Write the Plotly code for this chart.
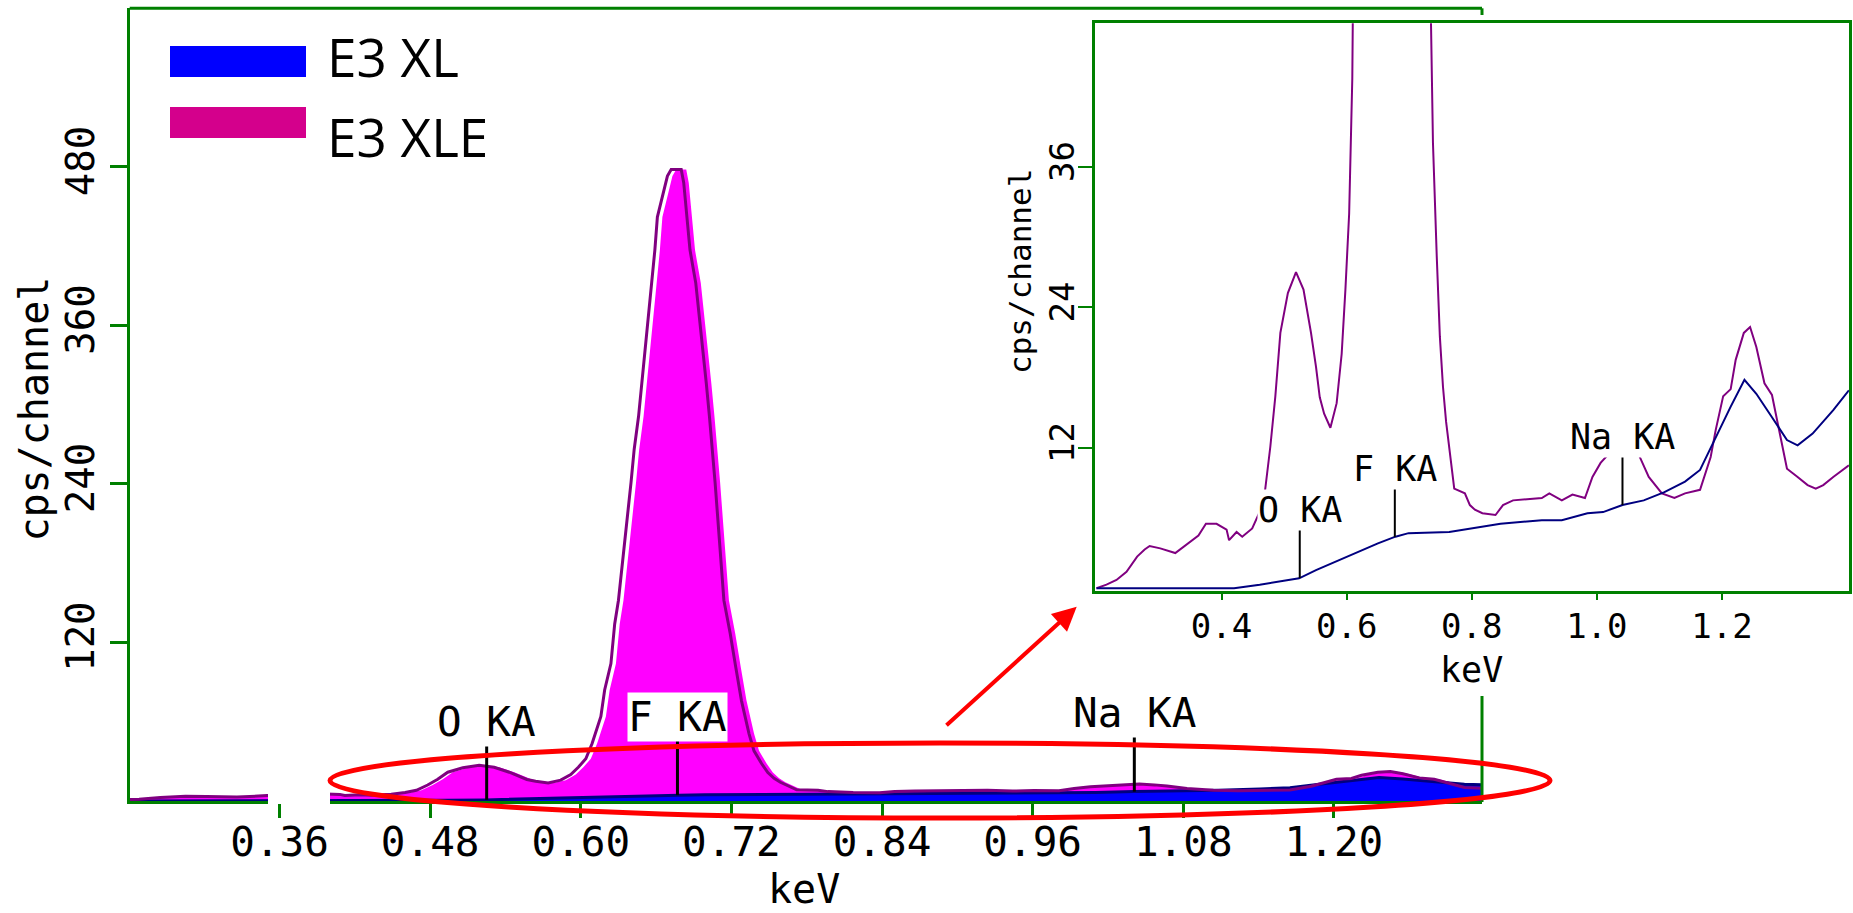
import numpy as np
import plotly.graph_objects as go

W, H = 1853, 913

# ---------------- data ----------------
xle_kev = [0.200, 0.216, 0.232, 0.248, 0.265, 0.277, 0.285, 0.302, 0.326, 0.343,
           0.363, 0.375, 0.392, 0.408, 0.412, 0.424, 0.433, 0.449, 0.460, 0.469,
           0.478, 0.486, 0.494, 0.506, 0.519, 0.531, 0.543, 0.551, 0.557, 0.564,
           0.574, 0.584, 0.592, 0.598, 0.604, 0.609, 0.616, 0.619, 0.624, 0.627,
           0.630, 0.640, 0.6425, 0.646, 0.6486, 0.6512, 0.654, 0.6565, 0.659, 0.661,
           0.666, 0.669, 0.672, 0.680, 0.682, 0.6844, 0.687, 0.6916, 0.6945, 0.697,
           0.700, 0.7025, 0.705, 0.707, 0.714, 0.719, 0.7235, 0.728, 0.734, 0.738,
           0.744, 0.749, 0.754, 0.759, 0.772, 0.789, 0.797, 0.805, 0.817, 0.838,
           0.850, 0.866, 0.912, 0.924, 0.944, 0.961, 0.981, 0.993, 1.006, 1.018,
           1.030, 1.045, 1.057, 1.067, 1.083, 1.104, 1.124, 1.141, 1.165, 1.182,
           1.190, 1.202, 1.214, 1.222, 1.235, 1.245, 1.255, 1.268, 1.280, 1.292,
           1.304, 1.321, 1.337, 1.350, 1.362, 1.378, 1.403]
xle_cps = [0.0, 0.3, 0.7, 1.4, 2.7, 3.3, 3.6, 3.4, 3.0, 3.7,
           4.5, 5.5, 5.5, 5.0, 4.1, 4.8, 4.4, 5.1, 6.4, 8.1,
           12.1, 16.4, 21.8, 25.2, 27.0, 25.5, 21.8, 18.9, 16.3, 14.9,
           13.7, 15.8, 20.0, 25.5, 32.0, 43.5, 64.0, 84.0, 104, 134,
           152, 241, 266, 291, 316, 341, 367, 392, 417, 442,
           460, 473, 478, 478, 468, 442, 417, 392, 367, 341,
           316, 291, 266, 241, 152, 127, 101, 76, 51, 38.0,
           28.4, 21.5, 17.2, 14.2, 8.5, 8.1, 7.1, 6.7, 6.4, 6.25,
           7.1, 7.5, 7.7, 8.1, 7.5, 8.0, 7.7, 9.5, 10.7, 11.4,
           12.3, 12.8, 12.2, 11.4, 9.5, 8.1, 7.7, 8.1, 8.4, 11.2,
           13.5, 16.4, 17.0, 19.5, 21.8, 22.3, 20.6, 17.5, 16.5, 13.5,
           10.2, 9.5, 8.8, 8.5, 8.8, 9.5, 10.5]

xl_kev = [0.200, 0.420, 0.461, 0.494, 0.524, 0.551, 0.584, 0.617, 0.650, 0.678,
          0.699, 0.764, 0.813, 0.846, 0.912, 0.944, 0.985, 1.010, 1.041, 1.075,
          1.108, 1.141, 1.165, 1.190, 1.214, 1.236, 1.255, 1.280, 1.304, 1.321,
          1.345, 1.378, 1.403]
xl_cps = [0.0, 0.0, 0.3, 0.55, 0.84, 1.55, 2.3, 3.1, 3.83, 4.4,
          4.7, 4.8, 5.25, 5.5, 5.8, 5.8, 6.4, 6.5, 7.1, 7.5,
          8.2, 9.1, 10.1, 12.9, 15.5, 17.8, 16.6, 14.6, 12.65, 12.2,
          13.2, 15.2, 16.9]

line_names = ["O KA", "F KA", "Na KA"]
line_kev = [0.525, 0.677, 1.041]

main_xticks = [0.36, 0.48, 0.60, 0.72, 0.84, 0.96, 1.08, 1.20]
main_yticks = [120, 240, 360, 480]
inset_xticks = [0.4, 0.6, 0.8, 1.0, 1.2]
inset_yticks = [12, 24, 36]

legend_names = ["E3 XL", "E3 XLE"]

# ---------------- styles ----------------
GREEN = "#008000"
MAGENTA = "#FF00FF"
PURPLE = "#800080"
NAVY = "#000080"
BLUE = "#0000FF"
RED = "#FF0000"
MONO = "DejaVu Sans Mono"
fill_offset_kev = 0.004


def px(x):
    return x / W


def py(y):
    return 1 - y / H


fig = go.Figure()

# main chart
fig.add_trace(go.Scatter(x=np.array(xle_kev) + fill_offset_kev, y=xle_cps, mode="lines",
                         fill="tozeroy", fillcolor=MAGENTA, line=dict(width=0),
                         xaxis="x", yaxis="y", hoverinfo="skip"))
fig.add_trace(go.Scatter(x=xl_kev, y=xl_cps, mode="lines", fill="tozeroy", fillcolor=BLUE,
                         line=dict(color=NAVY, width=3), xaxis="x", yaxis="y"))
fig.add_trace(go.Scatter(x=xle_kev, y=xle_cps, mode="lines",
                         line=dict(color=PURPLE, width=3), xaxis="x", yaxis="y"))

# inset chart
fig.add_trace(go.Scatter(x=xle_kev, y=xle_cps, mode="lines",
                         line=dict(color=PURPLE, width=2), xaxis="x2", yaxis="y2"))
fig.add_trace(go.Scatter(x=xl_kev, y=xl_cps, mode="lines",
                         line=dict(color=NAVY, width=2), xaxis="x2", yaxis="y2"))

shapes = []
annotations = []

# line markers
marker_base = np.interp(line_kev, xl_kev, xl_cps)
for name, e, b in zip(line_names, line_kev, marker_base):
    top_main = b + 44
    shapes.append(dict(type="line", xref="x", yref="y", x0=e, x1=e, y0=b, y1=top_main,
                       line=dict(color="black", width=3)))
    annotations.append(dict(xref="x", yref="y", x=e, y=top_main, text=name, showarrow=False,
                            yanchor="middle", xanchor="center", yshift=20, bgcolor="white",
                            borderpad=0, font=dict(family=MONO, size=41, color="black")))
    top_in = b + 4.3
    shapes.append(dict(type="line", xref="x2", yref="y2", x0=e, x1=e, y0=b, y1=top_in,
                       line=dict(color="black", width=2)))
    annotations.append(dict(xref="x2", yref="y2", x=e, y=top_in, text=name, showarrow=False,
                            yanchor="middle", xanchor="center", yshift=18, bgcolor="white",
                            borderpad=0, font=dict(family=MONO, size=35, color="black")))

# main frame pieces
shapes.append(dict(type="line", xref="paper", yref="paper", x0=px(129.7), x1=px(1482),
                   y0=py(8.3), y1=py(8.3), line=dict(color=GREEN, width=3)))
shapes.append(dict(type="line", xref="paper", yref="paper", x0=px(1482), x1=px(1482),
                   y0=py(8.3), y1=py(15), line=dict(color=GREEN, width=3)))
shapes.append(dict(type="line", xref="paper", yref="paper", x0=px(1482), x1=px(1482),
                   y0=py(696), y1=py(802), line=dict(color=GREEN, width=3)))
# erased gap on the main baseline
shapes.append(dict(type="rect", xref="paper", yref="paper", x0=px(268), x1=px(330),
                   y0=py(804), y1=py(787), fillcolor="white", line=dict(width=0), layer="above"))
# legend swatches
shapes.append(dict(type="rect", xref="paper", yref="paper", x0=px(170), x1=px(306),
                   y0=py(77), y1=py(46), fillcolor=BLUE, line=dict(width=0)))
shapes.append(dict(type="rect", xref="paper", yref="paper", x0=px(170), x1=px(306),
                   y0=py(138), y1=py(107), fillcolor="#D4008C", line=dict(width=0)))
# red ellipse
shapes.append(dict(type="circle", xref="paper", yref="paper", x0=px(330), x1=px(1550),
                   y0=py(818), y1=py(743), line=dict(color=RED, width=5), layer="above"))

# legend text
annotations.append(dict(xref="paper", yref="paper", x=px(325), y=py(56), text=legend_names[0],
                        showarrow=False, xanchor="left", yanchor="middle",
                        font=dict(family="Open Sans", size=53, color="black")))
annotations.append(dict(xref="paper", yref="paper", x=px(325), y=py(136.5), text=legend_names[1],
                        showarrow=False, xanchor="left", yanchor="middle",
                        font=dict(family="Open Sans", size=53, color="black")))

# axis titles
annotations.append(dict(xref="paper", yref="paper", x=px(803.5), y=0, text="keV",
                        showarrow=False, xanchor="center", yanchor="bottom", borderpad=0,
                        font=dict(family=MONO, size=40, color="black")))
annotations.append(dict(xref="paper", yref="paper", x=px(33.6), y=py(409), text="cps/channel",
                        showarrow=False, xanchor="center", yanchor="middle", textangle=-90,
                        font=dict(family=MONO, size=40, color="black")))
annotations.append(dict(xref="paper", yref="paper", x=px(1471), y=py(670), text="keV",
                        showarrow=False, xanchor="center", yanchor="middle",
                        font=dict(family=MONO, size=35, color="black")))
annotations.append(dict(xref="paper", yref="paper", x=px(1020), y=py(272), text="cps/channel",
                        showarrow=False, xanchor="center", yanchor="middle", textangle=-90,
                        font=dict(family=MONO, size=31, color="black")))

# red arrow
annotations.append(dict(xref="paper", yref="paper", x=px(1076.7), y=py(606.7), ax=-131.7, ay=120,
                        axref="pixel", ayref="pixel", text="", showarrow=True, arrowhead=2,
                        arrowsize=1.2, arrowwidth=4, arrowcolor=RED, standoff=0))

main_ax = dict(showgrid=False, zeroline=False, showline=True, linecolor=GREEN, linewidth=3,
               ticks="outside", tickcolor=GREEN, tickwidth=3,
               tickfont=dict(family=MONO, size=41, color="black"))
inset_ax = dict(showgrid=False, zeroline=False, showline=True, mirror=True, linecolor=GREEN,
                linewidth=2.5, ticks="outside", tickcolor=GREEN, tickwidth=2,
                tickfont=dict(family=MONO, size=34, color="black"))

fig.update_layout(
    width=W, height=H, autosize=False,
    margin=dict(l=0, r=0, t=0, b=0),
    paper_bgcolor="white", plot_bgcolor="white",
    showlegend=False,
    xaxis=dict(domain=[px(129.7), px(1482)], range=[0.2406, 1.318],
               tickvals=main_xticks, ticktext=[f"{v:.2f}" for v in main_xticks],
               ticklen=14, ticklabelstandoff=-11, anchor="y", **main_ax),
    yaxis=dict(domain=[py(801), py(8.3)], range=[0, 600], tickvals=main_yticks,
               ticktext=[str(v) for v in main_yticks], tickangle=-90, ticklen=17,
               anchor="x", **{**main_ax, "tickfont": dict(family=MONO, size=39, color="black")}),
    xaxis2=dict(domain=[px(1094.6), px(1848.9)], range=[0.197, 1.403],
                tickvals=inset_xticks, ticktext=[f"{v:.1f}" for v in inset_xticks],
                ticklen=6, ticklabelstandoff=-3, anchor="y2", **inset_ax),
    yaxis2=dict(domain=[py(591), py(23.3)], range=[-0.24, 48.24], tickvals=inset_yticks,
                ticktext=[str(v) for v in inset_yticks], tickangle=-90, ticklen=14,
                ticklabelstandoff=-10, anchor="x2", **inset_ax),
    shapes=shapes,
    annotations=annotations,
)

fig.write_html("out.html")
